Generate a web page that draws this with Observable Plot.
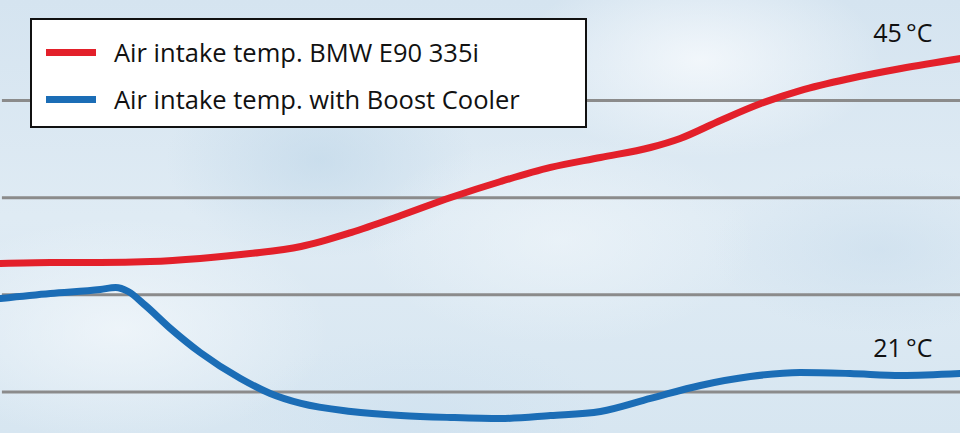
<!DOCTYPE html>
<html>
<head>
<meta charset="utf-8">
<script src="https://cdn.jsdelivr.net/npm/d3@7"></script>
<script src="https://cdn.jsdelivr.net/npm/@observablehq/plot@0.6"></script>
<style>
  html, body { margin: 0; padding: 0; background: #dce8f2; }
  #wrap {
    position: relative; width: 960px; height: 433px; overflow: hidden;
    background:
      radial-gradient(ellipse 300px 160px at 120px 330px, rgba(245,249,252,0.7), rgba(245,249,252,0) 70%),
      radial-gradient(ellipse 260px 140px at 700px 60px, rgba(250,252,254,0.75), rgba(250,252,254,0) 70%),
      radial-gradient(ellipse 280px 150px at 560px 240px, rgba(240,246,250,0.6), rgba(240,246,250,0) 70%),
      radial-gradient(ellipse 220px 140px at 320px 160px, rgba(190,214,232,0.6), rgba(190,214,232,0) 70%),
      radial-gradient(ellipse 240px 120px at 880px 250px, rgba(200,220,236,0.55), rgba(200,220,236,0) 70%),
      radial-gradient(ellipse 260px 120px at 420px 420px, rgba(205,224,239,0.55), rgba(205,224,239,0) 70%),
      linear-gradient(180deg, #d5e4f0 0%, #dfebf4 50%, #d7e6f1 100%);
  }
  #legend {
    position: absolute; left: 30px; top: 18px; width: 553px; height: 106px;
    background: #ffffff; border: 2px solid #111;
    font-family: "Open Sans", sans-serif; font-size: 25.5px; color: #111;
  }
  .row { position: absolute; left: 0; display: flex; align-items: center; }
  .sw { width: 50px; height: 7px; margin-left: 14px; margin-right: 18px; }
  #chart svg { display: block; }
</style>
</head>
<body>
<div id="wrap">
  <div id="chart"></div>
  <div id="legend"></div>
</div>
<script>
// Series names and colours
const seriesNames = ["Air intake temp. BMW E90 335i", "Air intake temp. with Boost Cooler"];
const seriesColors = ["#e3202a", "#1b6db6"];

// Red series (time in % of run, temperature °C)
const redT    = [0, 5.2, 10.4, 15.6, 20.8, 26.0, 31.3, 36.5, 41.7, 46.9, 52.1, 57.3, 62.5, 67.7, 70.8, 75.0, 79.2, 83.3, 88.5, 93.8, 100];
const redTemp = [29.38, 29.46, 29.46, 29.53, 29.77, 30.14, 30.68, 31.74, 33.04, 34.41, 35.63, 36.70, 37.46, 38.22, 38.91, 40.28, 41.57, 42.56, 43.48, 44.24, 45.0];

// Blue series
const blueT    = [0, 5.2, 10.4, 12.0, 13.3, 15.1, 17.7, 20.8, 25.0, 28.1, 31.3, 36.5, 41.7, 46.9, 52.1, 57.3, 62.5, 67.7, 72.9, 78.1, 83.3, 88.5, 93.8, 100];
const blueTemp = [26.72, 27.10, 27.40, 27.55, 27.25, 26.18, 24.43, 22.60, 20.62, 19.48, 18.72, 18.11, 17.80, 17.65, 17.57, 17.80, 18.11, 19.10, 20.09, 20.77, 21.08, 21.00, 20.85, 21.0];

// Grid lines (°C)
const gridTemps = [41.8, 34.4, 27.0, 19.6];

// End labels
const labelText = ["45\u2009°C", "21\u2009°C"];
const labelT = [94, 94];
const labelTemp = [45.0, 21.0];

const red = redT.map((t, i) => ({t, temp: redTemp[i], s: seriesNames[0]}));
const blue = blueT.map((t, i) => ({t, temp: blueTemp[i], s: seriesNames[1]}));
const labels = labelText.map((text, i) => ({text, t: labelT[i], temp: labelTemp[i]}));

const plot = Plot.plot({
  width: 960,
  height: 433,
  margin: 0,
  x: {domain: [0, 100], axis: null},
  y: {domain: [16.43, 49.42], axis: null},
  style: {background: "transparent", fontFamily: "'Open Sans', sans-serif"},
  marks: [
    Plot.ruleY(gridTemps, {stroke: "#8b8b8b", strokeWidth: 3, x1: 0.2, x2: 100}),
    Plot.line(blue, {x: "t", y: "temp", stroke: seriesColors[1], strokeWidth: 7, curve: "monotone-x"}),
    Plot.line(red, {x: "t", y: "temp", stroke: seriesColors[0], strokeWidth: 7, curve: "monotone-x"}),
    Plot.text(labels, {x: "t", y: "temp", text: "text", dy: -25, fontSize: 25, fill: "#111", textAnchor: "middle"})
  ]
});
document.getElementById("chart").appendChild(plot);

const legend = document.getElementById("legend");
seriesNames.forEach((name, i) => {
  const row = document.createElement("div");
  row.className = "row";
  row.style.top = (i === 0 ? 15 : 62) + "px";
  row.innerHTML = `<div class="sw" style="background:${seriesColors[i]}"></div><span>${name}</span>`;
  legend.appendChild(row);
});
</script>
</body>
</html>
